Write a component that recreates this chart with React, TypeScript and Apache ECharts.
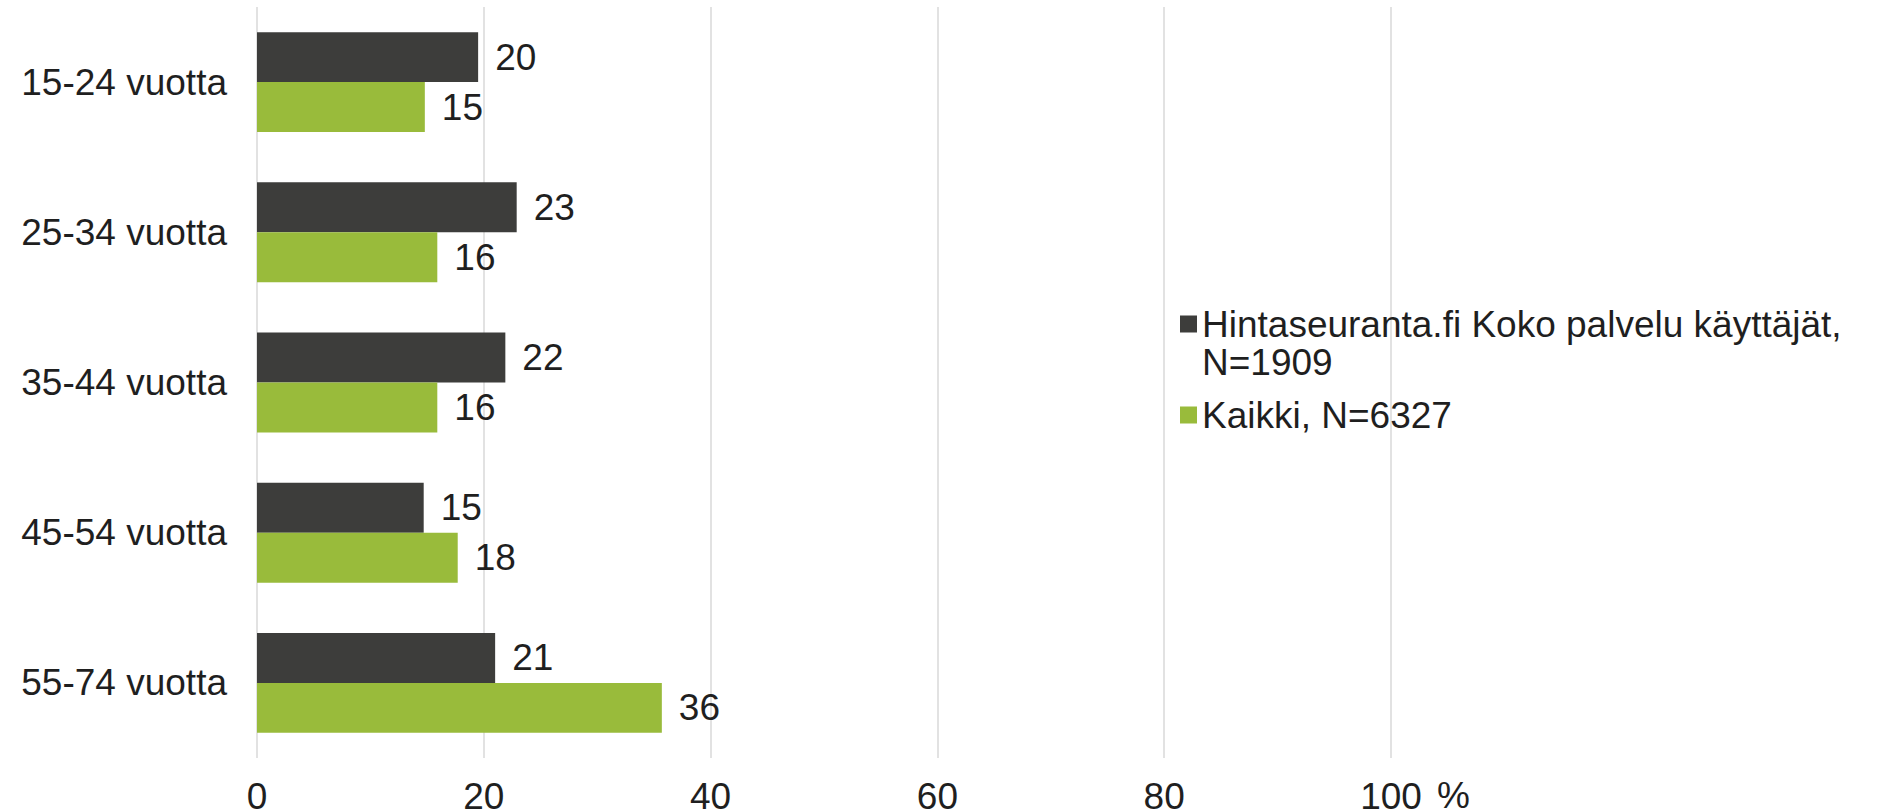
import React, { useEffect, useRef } from "react";
import * as echarts from "echarts";

const categories = ["15-24 vuotta", "25-34 vuotta", "35-44 vuotta", "45-54 vuotta", "55-74 vuotta"];
const seriesNames = ["Hintaseuranta.fi Koko palvelu käyttäjät,\nN=1909", "Kaikki, N=6327"];
const hintaseurantaValues = [19.5, 22.9, 21.9, 14.7, 21.0];
const kaikkiValues = [14.8, 15.9, 15.9, 17.7, 35.7];
const xTicks = [0, 20, 40, 60, 80, 100];

const FONT = "Liberation Sans, Arial, sans-serif";
const FS = 37;
const TEXT = "#1f1f1f";
const DARK = "#3d3d3b";
const GREEN = "#99bb3b";

export default function App() {
  const ref = useRef<HTMLDivElement>(null);
  useEffect(() => {
    if (!ref.current) return;
    const chart = echarts.init(ref.current, undefined, { renderer: "svg" });
    const labelCfg = {
      show: true,
      position: "right" as const,
      distance: 17,
      fontSize: FS,
      fontFamily: FONT,
      color: TEXT,
      formatter: (p: any) => String(Math.round(p.value)),
    };
    chart.setOption({
      animation: false,
      textStyle: { fontFamily: FONT },
      grid: { left: 257, right: 486, top: 7, bottom: 54, containLabel: false, outerBoundsMode: "none" },
      xAxis: {
        type: "value",
        min: xTicks[0],
        max: xTicks[xTicks.length - 1],
        interval: 20,
        name: "%",
        nameLocation: "end",
        nameGap: 46,
        nameTextStyle: { fontSize: FS, fontFamily: FONT, color: TEXT, verticalAlign: "top", lineHeight: 74 },
        axisLine: { show: false },
        axisTick: { show: false },
        axisLabel: { fontSize: FS, fontFamily: FONT, color: TEXT, margin: 24, lineHeight: 28 },
        splitLine: { show: true, lineStyle: { color: "#d9d9d9", width: 1.5 } },
      },
      yAxis: {
        type: "category",
        data: categories,
        inverse: true,
        axisLine: { show: false },
        axisTick: { show: false },
        axisLabel: { fontSize: FS, fontFamily: FONT, color: TEXT, margin: 30 },
      },
      legend: [
        {
          data: [seriesNames[0]],
          orient: "vertical",
          left: 1180,
          top: 267,
          padding: 0,
          itemWidth: 17,
          itemHeight: 17,
          icon: "rect",
          formatter: (name: string) => "\n" + name,
          textStyle: { fontSize: FS, fontFamily: FONT, color: TEXT, lineHeight: 38 },
        },
        {
          data: [seriesNames[1]],
          orient: "vertical",
          left: 1180,
          top: 396,
          padding: 0,
          itemWidth: 17,
          itemHeight: 17,
          icon: "rect",
          textStyle: { fontSize: FS, fontFamily: FONT, color: TEXT, lineHeight: 38 },
        },
      ],
      series: [
        {
          name: seriesNames[0],
          type: "bar",
          data: hintaseurantaValues,
          itemStyle: { color: DARK },
          barGap: "0%",
          barCategoryGap: "33.5%",
          label: labelCfg,
        },
        {
          name: seriesNames[1],
          type: "bar",
          data: kaikkiValues,
          itemStyle: { color: GREEN },
          barGap: "0%",
          barCategoryGap: "33.5%",
          label: labelCfg,
        },
      ],
    });
    return () => chart.dispose();
  }, []);
  return (
    <div
      ref={ref}
      style={{ position: "fixed", left: 0, top: 0, width: 1877, height: 812, background: "#fff" }}
    />
  );
}
